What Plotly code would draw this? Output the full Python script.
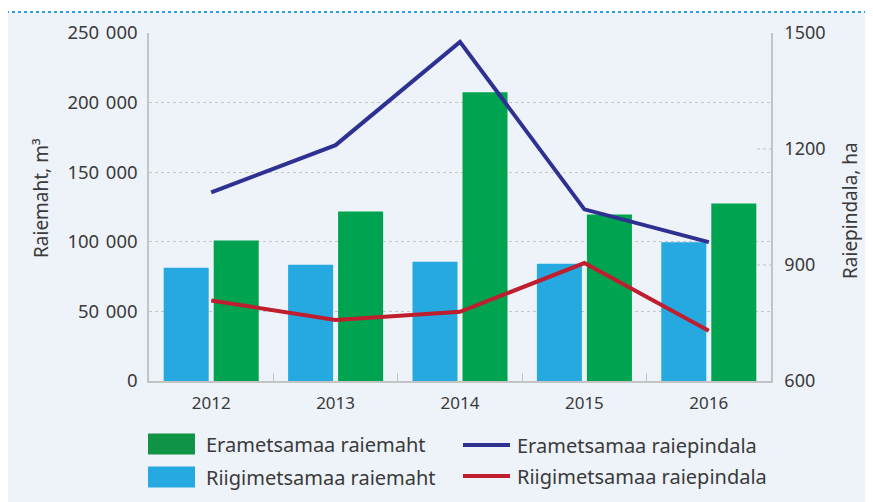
import plotly.graph_objects as go

years = ["2012", "2013", "2014", "2015", "2016"]
riigi_maht = [81400, 83600, 85700, 84300, 99600]
era_maht = [101000, 121800, 207500, 119600, 127500]
era_pind = [1088, 1210, 1477, 1044, 959]
riigi_pind = [808, 758, 779, 905, 730]

left_ticks = [0, 50000, 100000, 150000, 200000, 250000]
left_ticktext = ["0", "50 \u200a000", "100 \u200a000", "150 \u200a000", "200 \u200a000", "250 \u200a000"]
right_ticks = [600, 900, 1200, 1500]

names = ["Erametsamaa raiemaht", "Riigimetsamaa raiemaht",
         "Erametsamaa raiepindala", "Riigimetsamaa raiepindala"]

C_GREEN = "#00a34f"
C_GREEN_LEG = "#0f9345"
C_BLUE = "#26a8e0"
C_NAVY = "#2e3192"
C_RED = "#be1e2d"
BG = "#eef3f9"
TXT = "#3a3a3a"
FONT = "Noto Sans"

# page geometry (browser body has an 8px margin)
OFF = 8
PW, PH = 873, 502
FW, FH = PW - OFF, PH - OFF
L, R, T, B = 149, 771, 33, 381  # plot area in page pixels


def px(x):
    return (x - L) / (R - L)


def py(y):
    return (B - y) / (B - T)


fig = go.Figure()
fig.add_trace(go.Bar(x=years, y=riigi_maht, name=names[1], marker_color=C_BLUE,
                     marker_line_width=0, showlegend=False))
fig.add_trace(go.Bar(x=years, y=era_maht, name=names[0], marker_color=C_GREEN,
                     marker_line_width=0, showlegend=False))
fig.add_trace(go.Scatter(x=years, y=era_pind, name=names[2], mode="lines",
                         line=dict(color=C_NAVY, width=4), yaxis="y2", showlegend=False))
fig.add_trace(go.Scatter(x=years, y=riigi_pind, name=names[3], mode="lines",
                         line=dict(color=C_RED, width=4), yaxis="y2", showlegend=False))

shapes = []
# white strips outside the light panel
shapes.append(dict(type="rect", xref="paper", yref="paper", x0=px(0), x1=px(PW), y0=py(0), y1=py(12),
                   fillcolor="white", line_width=0, layer="below"))
shapes.append(dict(type="rect", xref="paper", yref="paper", x0=px(869), x1=px(PW + 5), y0=py(0), y1=py(PH),
                   fillcolor="white", line_width=0, layer="below"))
# dotted top rule
shapes.append(dict(type="line", xref="paper", yref="paper", x0=px(6), x1=px(870), y0=py(12), y1=py(12),
                   line=dict(color="#2a9fd8", width=2, dash="dot")))
# short right-axis grid marks
for v in right_ticks[1:-1]:
    shapes.append(dict(type="line", xref="paper", yref="y2", x0=px(757), x1=1, y0=v, y1=v,
                       line=dict(color="#c4c4c4", width=1.2, dash="dot")))

# custom legend
leg_font = dict(family=FONT, size=20, color=TXT)
annotations = []
sw = [(C_GREEN_LEG, 444), (C_BLUE, 477)]
for (c, yc), nm in zip(sw, names[:2]):
    shapes.append(dict(type="rect", xref="paper", yref="paper", x0=px(148), x1=px(195),
                       y0=py(yc - 10.5), y1=py(yc + 10.5), fillcolor=c, line_width=0))
    annotations.append(dict(xref="paper", yref="paper", x=px(204), y=py(yc), text=nm, showarrow=False,
                            xanchor="left", yanchor="middle", font=leg_font))
ln = [(C_NAVY, 445), (C_RED, 476)]
for (c, yc), nm in zip(ln, names[2:]):
    shapes.append(dict(type="line", xref="paper", yref="paper", x0=px(463), x1=px(510),
                       y0=py(yc), y1=py(yc), line=dict(color=c, width=4)))
    annotations.append(dict(xref="paper", yref="paper", x=px(515), y=py(yc), text=nm, showarrow=False,
                            xanchor="left", yanchor="middle", font=leg_font))

# axis titles
annotations.append(dict(xref="paper", yref="paper", x=px(41), y=py(198), text="Raiemaht, m³",
                        xanchor="center", yanchor="middle",
                        textangle=-90, showarrow=False, font=dict(family=FONT, size=19, color=TXT)))
annotations.append(dict(xref="paper", yref="paper", x=px(850), y=py(211), text="Raiepindala, ha",
                        xanchor="center", yanchor="middle",
                        textangle=-90, showarrow=False, font=dict(family=FONT, size=19, color=TXT)))

fig.update_layout(
    width=FW, height=FH,
    margin=dict(l=L - OFF, r=FW - (R - OFF), t=T - OFF, b=FH - (B - OFF), autoexpand=False),
    paper_bgcolor=BG, plot_bgcolor=BG,
    barmode="group", bargap=0.196, bargroupgap=0.1,
    font=dict(family=FONT, size=17, color=TXT),
    showlegend=False,
    shapes=shapes, annotations=annotations,
    xaxis=dict(type="category", showgrid=False, showline=True, linecolor="#c4c4c4", linewidth=1.5,
               ticks="inside", tickson="boundaries", ticklen=8, tickcolor="#c4c4c4",
               ticklabelstandoff=6, tickfont=dict(size=17)),
    yaxis=dict(range=[0, 250000], tickvals=left_ticks, ticktext=left_ticktext, showgrid=True,
               gridcolor="#c6c6c6", griddash="dot", gridwidth=1, showline=True,
               linecolor="#c4c4c4", linewidth=1.5, zeroline=False, ticks="",
               ticklabelstandoff=6, tickfont=dict(size=18.5)),
    yaxis2=dict(range=[600, 1500], tickvals=right_ticks, overlaying="y", side="right",
                showgrid=False, showline=True, linecolor="#c4c4c4", linewidth=1.5,
                zeroline=False, ticks="", ticklabelstandoff=8, tickfont=dict(size=18)),
)

fig.write_html("out.html")
